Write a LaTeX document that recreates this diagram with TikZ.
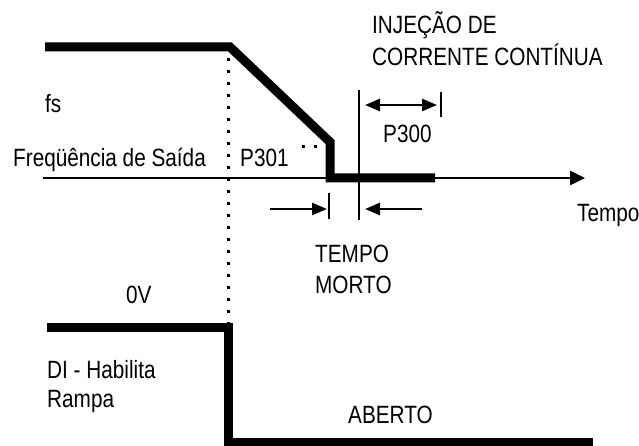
\documentclass[tikz,border=0pt]{standalone}
\usepackage{fontspec}
\setmainfont{Liberation Sans}[FakeStretch=0.83]
\usetikzlibrary{arrows.meta}
\begin{document}
\begin{tikzpicture}[x=1pt,y=-1pt,
  lbl/.style={anchor=base west,inner sep=0pt,font=\fontsize{25}{29}\selectfont},
  sigline/.style={line width=9pt,line join=miter,miter limit=10},
  axisline/.style={line width=2.5pt},
  dotline/.style={line width=3pt,dash pattern=on 3pt off 9pt},
  tipa/.style={-{Triangle[length=15pt,width=14pt]}},
  tipb/.style={-{Triangle[length=15pt,width=12pt]}},
  tipbb/.style={{Triangle[length=15pt,width=12pt]}-{Triangle[length=15pt,width=12pt]}}
]
\useasboundingbox (0,0) rectangle (639,446);

% coordinates
\coordinate (t0) at (45,47);
\coordinate (t1) at (230,47);
\coordinate (t2) at (330,142);
\coordinate (t3) at (330,178);
\coordinate (t4) at (435,178);
\coordinate (a0) at (43,178);
\coordinate (a1) at (585,178);
\coordinate (d0) at (228,58);
\coordinate (d1) at (228,324);
\coordinate (v0) at (359,90);
\coordinate (v1) at (359,220);
\coordinate (p0) at (365,105);
\coordinate (p1) at (437,105);
\coordinate (pb0) at (441,92);
\coordinate (pb1) at (441,117);
\coordinate (r0) at (270,209);
\coordinate (r1) at (327,209);
\coordinate (rb0) at (329,193);
\coordinate (rb1) at (329,219);
\coordinate (l0) at (422,209);
\coordinate (l1) at (365,209);
\coordinate (b0) at (47,327.5);
\coordinate (b1) at (228,327.5);
\coordinate (b2) at (228,442);
\coordinate (b3) at (593,442);

% axis
\draw[axisline,tipa] (a0) -- (a1);
% output frequency
\draw[sigline] (t0) -- (t1) -- (t2) -- (t3) -- (t4);
% dotted marker
\draw[dotline] (d0) -- (d1);
% dc injection marker
\draw[axisline] (v0) -- (v1);
\draw[axisline,tipbb] (p0) -- (p1);
\draw[axisline] (pb0) -- (pb1);
% dead time arrows
\draw[axisline,tipb] (r0) -- (r1);
\draw[axisline] (rb0) -- (rb1);
\draw[axisline,tipb] (l0) -- (l1);
% small dots
\fill (301.5,145.5) rectangle (304.5,148.5);
\fill (313.5,145.5) rectangle (316.5,148.5);
% DI signal
\draw[sigline] (b0) -- (b1) -- (b2) -- (b3);

% labels
\node[lbl] (fs) at (45,113) {fs};
\node[lbl] (freq) at (13,167) {Freqüência de Saída};
\node[lbl] (p301) at (240,167) {P301};
\node[lbl] (p300) at (383,143) {P300};
\node[lbl] (inj1) at (372,34) {INJEÇÃO DE};
\node[lbl] (inj2) at (372,66) {CORRENTE CONTÍNUA};
\node[lbl] (tempo) at (577,222) {Tempo};
\node[lbl] (tm1) at (315,262) {TEMPO};
\node[lbl] (tm2) at (315,293) {MORTO};
\node[lbl] (ov) at (126,303) {0V};
\node[lbl] (di1) at (47,378) {DI - Habilita};
\node[lbl] (di2) at (47,407) {Rampa};
\node[lbl] (ab) at (348,423) {ABERTO};
\end{tikzpicture}
\end{document}
